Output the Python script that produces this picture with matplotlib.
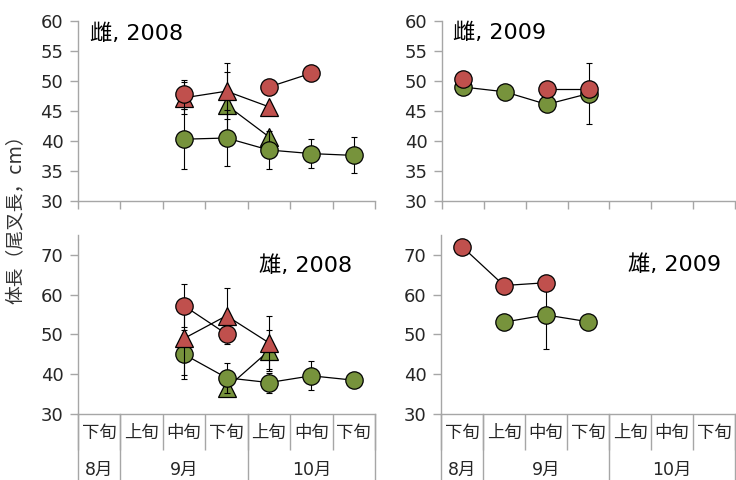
import numpy as np
import matplotlib
matplotlib.use("Agg")
import matplotlib.pyplot as plt

plt.rcParams['font.family'] = ['DejaVu Sans', 'Noto Sans CJK JP']

nan = np.nan

# categories (旬) and months
periods = ["下旬", "上旬", "中旬", "下旬", "上旬", "中旬", "下旬"]
months = ["8月", "9月", "10月"]
month_pos = [0, 2, 5]
month_bounds = [-0.5, 0.5, 3.5, 6.5]

# 雌, 2008
f08_red_c = [nan, nan, 47.8, nan, 49.0, 51.3, nan]
f08_red_c_err = [nan, nan, 2.4, nan, nan, nan, nan]
f08_red_t = [nan, nan, 47.2, 48.3, 45.7, nan, nan]
f08_red_t_err = [nan, nan, 2.7, 4.7, nan, nan, nan]
f08_grn_c = [nan, nan, 40.3, 40.5, 38.5, 37.9, 37.6]
f08_grn_c_err = [nan, nan, 5.0, 4.7, 3.1, 2.4, 3.0]
f08_grn_t = [nan, nan, nan, 46.0, 40.7, nan, nan]
f08_grn_t_err = [nan, nan, nan, 5.5, nan, nan, nan]

# 雌, 2009
f09_red_c = [50.3, nan, 48.7, 48.7, nan, nan, nan]
f09_grn_c = [49.0, 48.2, 46.1, 47.9, nan, nan, nan]
f09_grn_c_err = [nan, nan, nan, 5.1, nan, nan, nan]

# 雄, 2008
m08_red_c = [nan, nan, 57.2, 50.1, nan, nan, nan]
m08_red_c_err = [nan, nan, 5.4, nan, nan, nan, nan]
m08_red_t = [nan, nan, 49.0, 54.7, 47.9, nan, nan]
m08_red_t_err = [nan, nan, 9.3, 7.1, 6.7, nan, nan]
m08_grn_c = [nan, nan, 45.0, 39.1, 37.9, 39.6, 38.5]
m08_grn_c_err = [nan, nan, 6.2, 3.8, 2.5, 3.6, nan]
m08_grn_t = [nan, nan, nan, 36.5, 45.9, nan, nan]
m08_grn_t_err = [nan, nan, nan, nan, 5.1, nan, nan]

# 雄, 2009
m09_red_c = [72.1, 62.3, 63.0, nan, nan, nan, nan]
m09_grn_c = [nan, 53.1, 54.9, 53.2, nan, nan, nan]
m09_grn_c_err = [nan, nan, 8.6, nan, nan, nan, nan]

RED = "#C0504D"
GREEN = "#77933C"
AXC = "#A6A6A6"
TXT = "#262626"

W, H = 736, 480
fig = plt.figure(figsize=(W / 100, H / 100), dpi=100)


def px_axes(left, right, top, bottom):
    return fig.add_axes([left / W, 1 - bottom / H, (right - left) / W, (bottom - top) / H])


ax_tl = px_axes(78, 375, 21, 201)
ax_tr = px_axes(442, 735, 21, 201)
ax_bl = px_axes(78, 375, 235, 414)
ax_br = px_axes(441, 735, 235, 414)

x = np.arange(len(periods))


def series(ax, y, err, color, marker, z):
    y = np.array(y, float)
    ax.plot(x, y, color="black", lw=0.9, zorder=z)
    if err is not None:
        e = np.array(err, float)
        m = ~np.isnan(e)
        ax.errorbar(x[m], y[m], yerr=e[m], fmt="none", ecolor="black",
                    elinewidth=0.8, capsize=2.5, capthick=0.8, zorder=z)
    ms = 12.5 if marker == "o" else 12.5
    ax.plot(x, y, ls="none", marker=marker, ms=ms, mfc=color, mec="black",
            mew=0.9, zorder=z + 0.5)


def style(ax, bottom):
    ax.set_xlim(-0.5, 6.5)
    for s in ["top", "right"]:
        ax.spines[s].set_visible(False)
    for s in ["left", "bottom"]:
        ax.spines[s].set_color(AXC)
        ax.spines[s].set_linewidth(1.0)
    ax.tick_params(axis="y", colors=AXC, labelcolor=TXT, labelsize=13,
                   length=6, width=1.0, pad=4.5)
    ax.set_xticks(np.arange(-0.5, 7, 1), minor=True)
    if bottom:
        ax.set_xticks(x)
        ax.set_xticklabels(periods, fontsize=12.5, color=TXT)
        ax.tick_params(axis="x", which="major", length=0, pad=7)
        ax.tick_params(axis="x", which="minor", length=26, width=1.0, color=AXC)
        for b in month_bounds:
            ax.plot([b, b], [0, -0.37], color=AXC, lw=1.0,
                    transform=ax.get_xaxis_transform(), clip_on=False)
        for p, m in zip(month_pos, months):
            ax.text(p, -0.31, m, transform=ax.get_xaxis_transform(),
                    ha="center", va="center", fontsize=12.5, color=TXT)
    else:
        ax.set_xticks([])
        ax.tick_params(axis="x", which="minor", length=6, width=1.0, color=AXC)


# 雌, 2008
series(ax_tl, f08_grn_t, f08_grn_t_err, GREEN, "^", 3)
series(ax_tl, f08_grn_c, f08_grn_c_err, GREEN, "o", 4)
series(ax_tl, f08_red_t, f08_red_t_err, RED, "^", 5)
series(ax_tl, f08_red_c, f08_red_c_err, RED, "o", 6)
ax_tl.set_ylim(30, 60)
ax_tl.set_yticks(range(30, 61, 5))
style(ax_tl, False)
ax_tl.text(0.04, 0.928, "雌, 2008", transform=ax_tl.transAxes, fontsize=16,
           ha="left", va="center", color="black")

# 雌, 2009
series(ax_tr, f09_grn_c, f09_grn_c_err, GREEN, "o", 4)
series(ax_tr, f09_red_c, None, RED, "o", 6)
ax_tr.set_ylim(30, 60)
ax_tr.set_yticks(range(30, 61, 5))
style(ax_tr, False)
ax_tr.text(0.037, 0.933, "雌, 2009", transform=ax_tr.transAxes, fontsize=16,
           ha="left", va="center", color="black")

# 雄, 2008
series(ax_bl, m08_grn_t, m08_grn_t_err, GREEN, "^", 3)
series(ax_bl, m08_grn_c, m08_grn_c_err, GREEN, "o", 4)
series(ax_bl, m08_red_t, m08_red_t_err, RED, "^", 5)
series(ax_bl, m08_red_c, m08_red_c_err, RED, "o", 6)
ax_bl.set_ylim(30, 75)
ax_bl.set_yticks(range(30, 71, 10))
style(ax_bl, True)
ax_bl.text(0.922, 0.827, "雄, 2008", transform=ax_bl.transAxes, fontsize=16,
           ha="right", va="center", color="black")

# 雄, 2009
series(ax_br, m09_grn_c, m09_grn_c_err, GREEN, "o", 4)
series(ax_br, m09_red_c, None, RED, "o", 6)
ax_br.set_ylim(30, 75)
ax_br.set_yticks(range(30, 71, 10))
style(ax_br, True)
ax_br.text(0.953, 0.832, "雄, 2009", transform=ax_br.transAxes, fontsize=16,
           ha="right", va="center", color="black")

fig.text(15 / W, 1 - 215 / H, "体長（尾叉長，cm）", rotation=90, ha="center",
         va="center", fontsize=13.5, color="#333333")

fig.savefig("out.png", dpi=100)
